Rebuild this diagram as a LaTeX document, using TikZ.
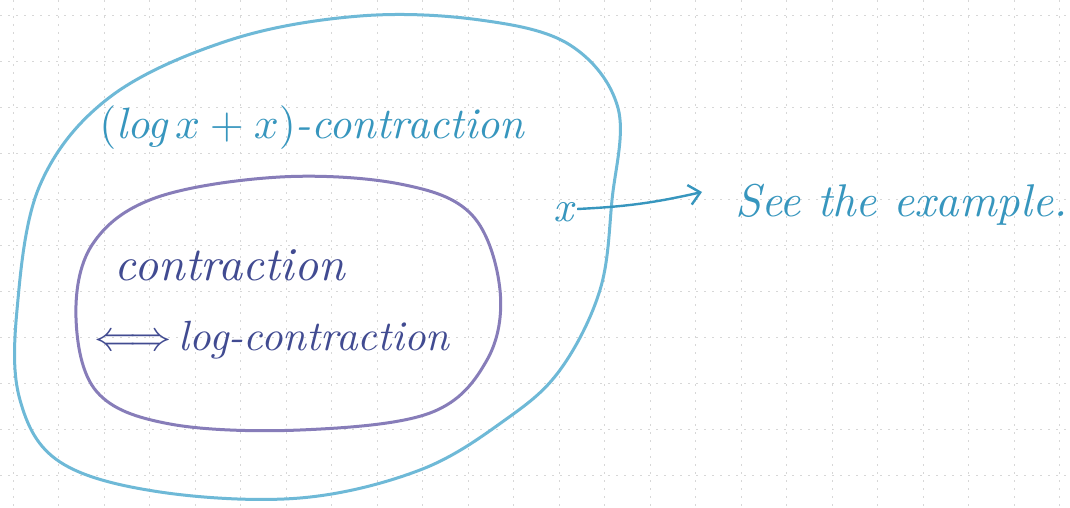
\documentclass[tikz,border=0pt]{standalone}
\usetikzlibrary{arrows.meta}
\definecolor{outerblue}{RGB}{110,185,215}
\definecolor{textblue}{RGB}{55,150,190}
\definecolor{innerpurple}{RGB}{135,125,185}
\definecolor{innertext}{RGB}{65,75,145}
\definecolor{gridgray}{RGB}{215,215,215}
\tikzset{
  blob/.style={line width=3pt, line join=round},
  hand/.style={inner sep=0pt, anchor=center},
}
\begin{document}
\begin{tikzpicture}[x=1pt,y=-1pt]
\useasboundingbox (0,0) rectangle (1070,508);
\fill[white] (0,0) rectangle (1070,508);
% faint grid
\foreach \gx in {13,58.5,...,1070} \draw[gridgray, dash pattern=on 2pt off 6pt, line width=0.6pt] (\gx,0) -- (\gx,508);
\foreach \gy in {15,61,...,508} \draw[gridgray, dash pattern=on 2pt off 6pt, line width=0.6pt] (0,\gy) -- (1070,\gy);
% outer blob
\draw[blob, outerblue] plot[smooth cycle, tension=0.6] coordinates {
 (20,400) (17,310) (40,185) (110,97) (230,40) (360,16) (480,20) (570,45)
 (618,108) (612,200) (600,290) (560,370) (505,420) (420,470) (300,498) (160,492) (60,462)};
% inner blob
\draw[blob, innerpurple] plot[smooth cycle, tension=0.6] coordinates {
 (92,245) (155,198) (280,177) (400,184) (472,215) (500,290) (487,360) (430,413)
 (300,430) (170,424) (97,392) (76,318)};
% texts
\node[hand, text=textblue] (outerlbl) at (312,128) {\resizebox{425pt}{!}{\itshape $($log\,$x+x)$-contraction}};
\node[hand, text=innertext] (c1) at (230,265) {\resizebox{230pt}{!}{\itshape contraction}};
\node[hand, text=innertext] (c2) at (272,340) {\resizebox{355pt}{!}{$\Longleftrightarrow$\,\itshape log-contraction}};
\node[hand, text=textblue] (xlbl) at (563,212) {\resizebox{20pt}{!}{\itshape x}};
\node[hand, text=textblue, anchor=west] (see) at (735,205) {\resizebox{332pt}{!}{\itshape See the example.}};
\coordinate (arrowend) at ([xshift=-33pt,yshift=13pt]see.west);
% arrow
\draw[textblue, line width=2.4pt, -{Straight Barb[length=11pt,width=20pt]}] ([xshift=4pt,yshift=3pt]xlbl.east) to[bend right=5] (arrowend);
\end{tikzpicture}
\end{document}
